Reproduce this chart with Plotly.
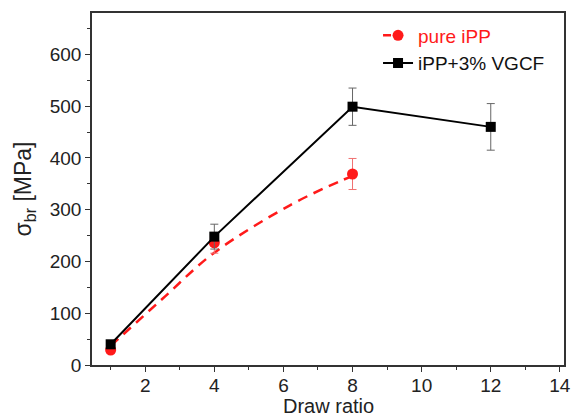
import plotly.graph_objects as go

# ---- data ----
draw_ratio_pure = [1, 4, 8]
sigma_pure = [29, 236, 369]
err_pure = [6, 20, 30]

draw_ratio_vgcf = [1, 4, 8, 12]
sigma_vgcf = [40, 248, 499, 460]
err_vgcf = [5, 24, 36, 45]

# dashed guide curve for pure iPP
fit_x = [1, 2.5, 4, 6.2, 7.6, 8]
fit_y = [37, 128, 217, 309, 354, 365]

x_ticks = [2, 4, 6, 8, 10, 12, 14]
y_ticks = [0, 100, 200, 300, 400, 500, 600]

FONT = "Liberation Sans, Arial, sans-serif"
RED = "#ff1a1a"

# build gapped arrays so that the legend shows a dashed line + dot
def gapped(vals):
    out = []
    for i, v in enumerate(vals):
        if i:
            out.append(None)
        out.append(v)
    return out

fig = go.Figure()

fig.add_trace(go.Scatter(
    x=fit_x, y=fit_y, mode="lines", line=dict(color=RED, width=2.5, dash="10px,7px", shape="spline"),
    showlegend=False, hoverinfo="skip"))

fig.add_trace(go.Scatter(
    x=gapped(draw_ratio_pure), y=gapped(sigma_pure),
    mode="lines+markers",
    name='<span style="color:#ff1a1a">pure iPP</span>',
    line=dict(color=RED, width=2.5, dash="8px,40px"),
    marker=dict(symbol="circle", size=11, color=RED),
    error_y=dict(type="data", array=gapped(err_pure), color="#f07070", thickness=1, width=4),
))

fig.add_trace(go.Scatter(
    x=draw_ratio_vgcf, y=sigma_vgcf,
    mode="lines+markers",
    name="iPP+3% VGCF",
    line=dict(color="black", width=2),
    marker=dict(symbol="square", size=10, color="black"),
    error_y=dict(type="data", array=err_vgcf, color="#666666", thickness=1, width=4),
))

axis_common = dict(
    showline=True, linecolor="#333333", linewidth=1.5, mirror=True,
    ticks="outside", ticklen=5, tickwidth=1, tickcolor="#333333",
    showgrid=False, zeroline=False, automargin=False,
    tickfont=dict(family=FONT, size=19, color="#222222"),
)

fig.update_layout(
    width=576, height=420,
    margin=dict(l=92, r=12, t=13, b=55),
    paper_bgcolor="white", plot_bgcolor="white",
    font=dict(family=FONT, color="#222222"),
    xaxis=dict(
        **axis_common,
        range=[0.46, 14.12],
        tickvals=x_ticks,
        ticklabelstandoff=-3,
        minor=dict(ticks="outside", ticklen=3, dtick=1, tick0=1, tickcolor="#333333"),
    ),
    yaxis=dict(
        **axis_common,
        range=[0, 680],
        tickvals=y_ticks,
        minor=dict(ticks="outside", ticklen=3, dtick=50, tick0=0, tickcolor="#333333"),
        title=dict(text="σ<sub>br</sub> [MPa]", font=dict(family=FONT, size=23, color="#222222"), standoff=12),
    ),
    legend=dict(
        x=0.606, y=0.99, xanchor="left", yanchor="top",
        bgcolor="rgba(0,0,0,0)", font=dict(family=FONT, size=19, color="#111111"),
        tracegroupgap=0, itemwidth=30,
    ),
    annotations=[dict(
        text="Draw ratio", xref="paper", yref="paper", x=0.5, y=-0.153,
        xanchor="center", yanchor="bottom", showarrow=False,
        font=dict(family=FONT, size=20, color="#222222"),
    )],
    showlegend=True,
)

fig.write_html("out.html")
